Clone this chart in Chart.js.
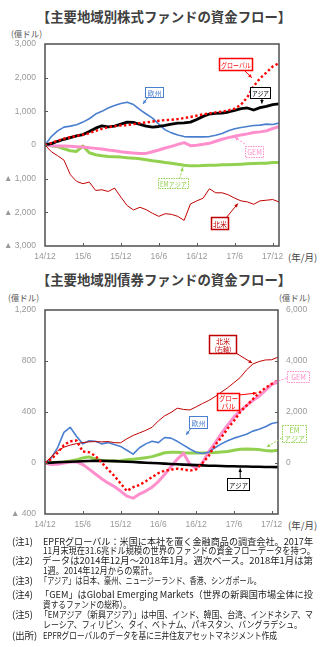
<!DOCTYPE html>
<html>
<head>
<meta charset="utf-8">
<script src="https://cdn.jsdelivr.net/npm/chart.js@4.4.0/dist/chart.umd.min.js"></script>
<style>
body{margin:0;background:#fff;}
#wrap{position:relative;width:328px;height:647px;overflow:hidden;font-family:"Noto Sans CJK JP",sans-serif;color:#222;}
.abs{position:absolute;white-space:nowrap;}
.ttl{left:0;width:328px;text-align:center;font-weight:bold;font-size:13.4px;line-height:16px;color:#404040;}
.unit{font-size:8.5px;line-height:10px;color:#555;}
.ym{font-size:9.5px;line-height:10px;color:#444;}
.note{font-size:9.4px;line-height:10px;color:#222;transform-origin:0 50%;}
canvas{position:absolute;left:0;}
</style>
</head>
<body>
<div id="wrap">
  <div class="abs ttl" style="top:8px">【主要地域別株式ファンドの資金フロー】</div>
  <div class="abs unit" style="left:11px;top:28px">(億ドル)</div>
  <div class="abs ym" style="left:288px;top:252px">(年/月)</div>

  <div class="abs ttl" style="top:271px">【主要地域別債券ファンドの資金フロー】</div>
  <div class="abs unit" style="left:8px;top:292px">(億ドル)</div>
  <div class="abs unit" style="left:279px;top:292px">(億ドル)</div>
  <div class="abs ym" style="left:288px;top:520px">(年/月)</div>

  <canvas id="eq" width="328" height="270" style="top:0;width:328px;height:270px"></canvas>
  <canvas id="bd" width="328" height="265" style="top:270px;width:328px;height:265px"></canvas>

  <div class="abs note" style="left:12px;top:536px">(注1)</div>
  <div class="abs note" data-r="313" style="left:43px;top:536px">EPFRグローバル：米国に本社を置く金融商品の調査会社。2017年</div>
  <div class="abs note" data-r="315" style="left:43px;top:545px">11月末現在31.6兆ドル規模の世界のファンドの資金フローデータを持つ。</div>
  <div class="abs note" style="left:12px;top:555px">(注2)</div>
  <div class="abs note" data-r="313" style="left:42px;top:555px">データは2014年12月～2018年1月。週次ベース。2018年1月は第</div>
  <div class="abs note" data-r="157" style="left:43px;top:565px">1週。2014年12月からの累計。</div>
  <div class="abs note" style="left:12px;top:575px">(注3)</div>
  <div class="abs note" data-r="261" style="left:40px;top:575px">「アジア」は日本、豪州、ニュージーランド、香港、シンガポール。</div>
  <div class="abs note" style="left:12px;top:589px">(注4)</div>
  <div class="abs note" data-r="313" style="left:40px;top:589px">「GEM」はGlobal Emerging Markets（世界の新興国市場全体に投</div>
  <div class="abs note" data-r="131" style="left:43px;top:599px">資するファンドの総称）。</div>
  <div class="abs note" style="left:12px;top:609px">(注5)</div>
  <div class="abs note" data-r="313" style="left:40px;top:609px">「EMアジア（新興アジア）」は中国、インド、韓国、台湾、インドネシア、マ</div>
  <div class="abs note" data-r="302" style="left:43px;top:619px">レーシア、フィリピン、タイ、ベトナム、パキスタン、バングラデシュ。</div>
  <div class="abs note" style="left:12px;top:630px">(出所)</div>
  <div class="abs note" data-r="277" style="left:43px;top:630px">EPFRグローバルのデータを基に三井住友アセットマネジメント作成</div>
</div>

<script>
// months since 2014/12 (0 = 14/12, 37 = 18/1)
var months = [0,1,2,3,4,5,6,7,8,9,10,11,12,13,14,15,16,17,18,19,20,21,22,23,24,25,26,27,28,29,30,31,32,33,34,35,36,37];
var tickMonths = [0,6,12,18,24,30,36];
var xLabels = ['14/12','15/6','15/12','16/6','16/12','17/6','17/12'];

// 株式ファンド 累計資金フロー (億ドル)
var eqGlobal  = [0,60,130,190,230,270,300,350,420,480,530,560,580,590,620,650,670,700,720,740,750,770,800,830,870,910,940,970,990,1030,1080,1200,1420,1750,1980,2150,2330,2430];
var eqAsia    = [0,40,110,170,220,270,310,400,500,570,540,560,620,680,670,610,560,530,550,580,620,650,660,680,760,850,920,940,950,980,1030,1080,1100,1040,1110,1150,1200,1220];
var eqNorthAm = [0,-200,-320,-450,-880,-1080,-1150,-1100,-1350,-1330,-1380,-1280,-1550,-1800,-1930,-1850,-1920,-2030,-2120,-2040,-2060,-2120,-2240,-1750,-1660,-1580,-1300,-1420,-1420,-1480,-1580,-1660,-1690,-1760,-1660,-1640,-1620,-1690];
var eqEurope  = [0,250,420,530,560,600,680,780,920,1000,1100,1170,1230,1270,1200,1050,920,800,620,450,360,300,250,240,240,240,250,290,340,420,480,520,550,580,590,620,610,650];
var eqGEM     = [0,-20,-30,-30,-40,-50,-60,-80,-100,-120,-150,-170,-200,-220,-240,-250,-250,-200,-150,-90,-40,20,70,-20,-10,20,50,110,170,220,260,300,330,370,390,420,490,540];
var eqEMAsia  = [0,-20,-50,-110,-170,-190,-30,-230,-290,-320,-340,-350,-360,-380,-390,-410,-440,-470,-490,-520,-540,-570,-600,-620,-620,-610,-600,-600,-590,-590,-580,-570,-560,-550,-540,-540,-520,-520];

// 債券ファンド 累計資金フロー (億ドル) 北米・グローバル・GEMは右軸
var bdGlobal  = [0,150,400,700,850,880,450,420,280,20,-250,-500,-800,-1100,-950,-860,-720,-550,-400,-300,-260,-220,-250,-300,-250,0,280,700,1000,1350,1650,2000,2250,2500,2750,2950,3100,3250];
var bdAsia    = [0,3,6,8,10,12,14,16,17,17,16,15,12,10,8,5,2,0,-2,-5,-8,-10,-13,-15,-17,-19,-21,-22,-24,-25,-26,-27,-28,-29,-30,-31,-31,-32];
var bdNorthAm = [0,250,480,620,700,760,800,830,840,830,840,800,790,950,1080,1180,1280,1400,1650,1850,1980,2150,2100,2080,2200,2330,2450,2600,2780,2950,3150,3350,3650,3880,3980,4040,4050,4150];
var bdEurope  = [0,40,120,240,280,210,150,175,170,150,160,145,130,100,70,120,150,170,160,200,195,170,140,110,85,75,85,120,150,175,195,210,225,250,265,285,310,320];
var bdGEM     = [0,-60,-50,0,40,40,-60,-240,-430,-620,-780,-920,-1100,-1300,-1380,-1220,-1100,-950,-730,-450,-150,150,380,-50,-200,0,450,780,1150,1480,1800,2050,2250,2450,2620,2850,3080,3170];
var bdEMAsia  = [0,0,5,8,15,25,40,48,30,20,18,16,18,25,30,35,42,50,65,80,85,85,80,78,78,78,80,82,86,90,100,108,110,108,105,98,95,100];

var RED = '#ff0000', DARKRED = '#c00000', BLUE = '#4a7fd0', PINK = '#ff8fcc', GREEN = '#92d050';
var TICKFONT = {family: 'Liberation Sans', size: 8.5};

// squeeze note lines so they end where the layout wants
document.querySelectorAll('.note[data-r]').forEach(function(el){
  var want = +el.getAttribute('data-r') - el.offsetLeft;
  var have = el.getBoundingClientRect().width;
  if (have > 0) el.style.transform = 'scaleX(' + (want / have) + ')';
});

function pts(arr){
  var out = [];
  for (var i = 0; i < arr.length; i++) out.push({x: months[i], y: arr[i]});
  return out;
}
function fmt(v){
  var s = Math.abs(v).toLocaleString('en-US');
  return v < 0 ? '▲ ' + s : s;
}

// frame, inward tick marks and callout boxes
function makeDeco(callouts){
  return {
    id: 'deco',
    afterDraw: function(chart){
      var ctx = chart.ctx, a = chart.chartArea;
      ctx.save();
      ctx.strokeStyle = '#595959';
      ctx.lineWidth = 1;
      Object.keys(chart.scales).forEach(function(k){
        var sc = chart.scales[k];
        sc.ticks.forEach(function(t){
          if (t.value == sc.min || t.value == sc.max) return;
          var p = Math.round(sc.getPixelForValue(t.value)) + 0.5;
          ctx.beginPath();
          if (k == 'x'){ ctx.moveTo(p, a.bottom); ctx.lineTo(p, a.bottom - 3); }
          else if (sc.position == 'left'){ ctx.moveTo(a.left, p); ctx.lineTo(a.left + 3, p); }
          else { ctx.moveTo(a.right, p); ctx.lineTo(a.right - 3, p); }
          ctx.stroke();
        });
      });
      ctx.lineWidth = 1.6;
      ctx.strokeRect(a.left, a.top, a.right - a.left, a.bottom - a.top);

      var xs = chart.scales.x, ys = chart.scales.y;
      callouts.forEach(function(c){
        var x1 = xs.getPixelForValue(c.from[0]), y1 = ys.getPixelForValue(c.from[1]);
        var x2 = xs.getPixelForValue(c.to[0]), y2 = ys.getPixelForValue(c.to[1]);
        ctx.strokeStyle = c.color; ctx.fillStyle = c.color; ctx.lineWidth = 1;
        ctx.setLineDash(c.dotted ? [2, 1.5] : []);
        ctx.beginPath(); ctx.moveTo(x1, y1); ctx.lineTo(x2, y2); ctx.stroke();
        ctx.setLineDash([]);
        var ang = Math.atan2(y2 - y1, x2 - x1);
        ctx.beginPath();
        ctx.moveTo(x2, y2);
        ctx.lineTo(x2 - 4 * Math.cos(ang - 0.45), y2 - 4 * Math.sin(ang - 0.45));
        ctx.lineTo(x2 - 4 * Math.cos(ang + 0.45), y2 - 4 * Math.sin(ang + 0.45));
        ctx.closePath(); ctx.fill();

        var cx = xs.getPixelForValue(c.at[0]), cy = ys.getPixelForValue(c.at[1]);
        var bx = Math.round(cx - c.w / 2) + 0.5, by = Math.round(cy - c.h / 2) + 0.5;
        ctx.fillStyle = '#fff';
        ctx.fillRect(bx, by, c.w, c.h);
        ctx.lineWidth = c.lw || 1;
        ctx.setLineDash(c.dotted ? [1.5, 1] : []);
        ctx.strokeRect(bx, by, c.w, c.h);
        ctx.setLineDash([]);
        ctx.fillStyle = c.color;
        ctx.font = '7px "Noto Sans CJK JP"';
        ctx.textAlign = 'center'; ctx.textBaseline = 'middle';
        var n = c.text.length;
        c.text.forEach(function(s, i){
          ctx.fillText(s, bx + c.w / 2, by + c.h / 2 + (i - (n - 1) / 2) * 8 + 0.5, c.w - 3);
        });
      });
      ctx.restore();
    }
  };
}

function baseX(){
  return {
    type: 'linear', min: 0, max: 37,
    afterBuildTicks: function(sc){ sc.ticks = tickMonths.map(function(v){ return {value: v}; }); },
    grid: {display: false, drawTicks: false}, border: {display: false},
    ticks: {font: TICKFONT, color: '#999', padding: 6, maxRotation: 0, autoSkip: false,
            callback: function(v, i){ return xLabels[i]; }}
  };
}

function line(label, arr, color, width, axis, dash){
  return {label: label, data: pts(arr), borderColor: color, borderWidth: width,
          borderDash: dash || [], yAxisID: axis || 'y', pointRadius: 0, tension: 0,
          borderCapStyle: dash ? 'butt' : 'round', borderJoinStyle: 'round', fill: false};
}

Chart.defaults.animation = false;

// 株式ファンド
var eqCallouts = [
  {text: ['グローバル'], at: [30.1, 2406], w: 33, h: 12, color: RED, lw: 1.5, from: [31.6, 2200], to: [32.7, 2000]},
  {text: ['アジア'], at: [34.0, 1545], w: 20, h: 11, color: '#000', from: [34.3, 1396], to: [34.3, 1230]},
  {text: ['欧州'], at: [17.2, 1574], w: 18, h: 10, color: BLUE, from: [16.3, 1426], to: [15.5, 1218]},
  {text: ['GEM'], at: [33.0, -193], w: 18, h: 11, color: PINK, dotted: true, from: [31.6, 30], to: [30.0, 230]},
  {text: ['EMアジア'], at: [20.2, -1143], w: 30, h: 10, color: GREEN, dotted: true, from: [21.3, -1000], to: [21.8, -660]},
  {text: ['北米'], at: [27.6, -2317], w: 17, h: 12, color: DARKRED, lw: 1.5, from: [28.75, -2138], to: [30.5, -1740]}
];

new Chart(document.getElementById('eq').getContext('2d'), {
  type: 'line',
  data: {datasets: [
    line('グローバル', eqGlobal, RED, 2.4, 'y', [2.4, 2.4]),
    line('アジア', eqAsia, '#000', 2.8),
    line('北米', eqNorthAm, DARKRED, 1),
    line('欧州', eqEurope, BLUE, 1.6),
    line('GEM', eqGEM, PINK, 3),
    line('EMアジア', eqEMAsia, GREEN, 3)
  ]},
  options: {
    responsive: false,
    layout: {padding: {left: 0, right: 49, top: 44, bottom: 0}},
    plugins: {legend: {display: false}, tooltip: {enabled: false}},
    scales: {
      x: Object.assign(baseX(), {afterFit: function(sc){ sc.height = 24; }}),
      y: {
        position: 'left', min: -3000, max: 3000,
        afterFit: function(sc){ sc.width = 45; },
        grid: {display: false, drawTicks: false}, border: {display: false},
        ticks: {stepSize: 1000, font: TICKFONT, color: '#999', padding: 9, callback: fmt}
      }
    }
  },
  plugins: [makeDeco(eqCallouts)]
});

// 債券ファンド
var bdCallouts = [
  {text: ['北米', '（右軸）'], at: [28.2, 933], w: 27, h: 18, color: DARKRED, lw: 1.5, from: [30.3, 863], to: [32.9, 784]},
  {text: ['GEM'], at: [40.1, 678], w: 22, h: 11, color: PINK, dotted: true, from: [38.4, 667], to: [36.3, 630]},
  {text: ['グロー', 'バル'], at: [29.1, 482], w: 22, h: 17, color: RED, lw: 1.5, from: [30.8, 533], to: [33.6, 549]},
  {text: ['欧州'], at: [24.3, 322], w: 18, h: 12, color: BLUE, from: [23.1, 267], to: [22.4, 220]},
  {text: ['EM', 'アジア'], at: [39.5, 231], w: 24, h: 17, color: GREEN, dotted: true, from: [37.6, 196], to: [35.2, 125]},
  {text: ['アジア'], at: [30.6, -165], w: 22, h: 12, color: '#000', from: [31, -118], to: [31, -42]}
];

new Chart(document.getElementById('bd').getContext('2d'), {
  type: 'line',
  data: {datasets: [
    line('グローバル', bdGlobal, RED, 2.4, 'y2', [2.4, 2.4]),
    line('アジア', bdAsia, '#000', 2.6),
    line('北米（右軸）', bdNorthAm, DARKRED, 1, 'y2'),
    line('欧州', bdEurope, BLUE, 1.6),
    line('GEM', bdGEM, PINK, 3, 'y2'),
    line('EMアジア', bdEMAsia, GREEN, 3)
  ]},
  options: {
    responsive: false,
    layout: {padding: {left: 0, right: 0, top: 40, bottom: 0}},
    plugins: {legend: {display: false}, tooltip: {enabled: false}},
    scales: {
      x: Object.assign(baseX(), {afterFit: function(sc){ sc.height = 21; }}),
      y: {
        position: 'left', min: -400, max: 1200,
        afterFit: function(sc){ sc.width = 45; },
        grid: {display: false, drawTicks: false}, border: {display: false},
        ticks: {stepSize: 400, font: TICKFONT, color: '#999', padding: 9, callback: fmt}
      },
      y2: {
        position: 'right', min: -2000, max: 6000,
        afterFit: function(sc){ sc.width = 50; },
        grid: {display: false, drawTicks: false}, border: {display: false},
        ticks: {stepSize: 2000, font: TICKFONT, color: '#999', padding: 8,
                callback: function(v){ return v < 0 ? '' : fmt(v); }}
      }
    }
  },
  plugins: [makeDeco(bdCallouts)]
});
</script>
</body>
</html>
